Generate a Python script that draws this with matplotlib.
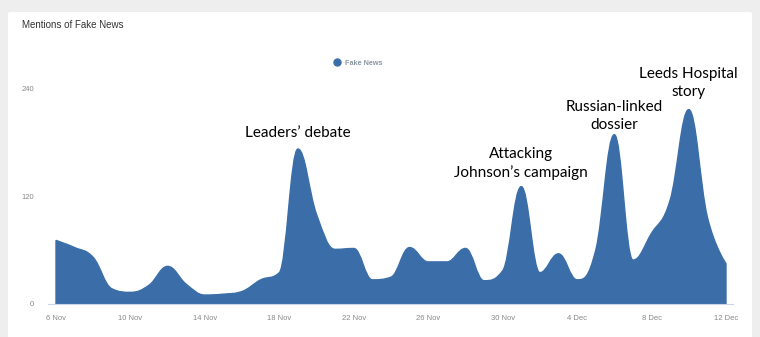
import matplotlib
matplotlib.use("Agg")
import matplotlib.pyplot as plt
import numpy as np
from matplotlib.path import Path
from matplotlib.patches import PathPatch, FancyBboxPatch

# daily mentions, 6 Nov .. 12 Dec
days = list(range(37))
mentions = [71, 63, 52, 17, 13, 21, 42, 22, 10, 11, 14, 27, 35, 173, 100, 61, 62,
            27, 30, 63, 47, 47, 62, 26, 37, 131, 35, 56, 27, 60, 189, 49, 79, 116,
            217, 97, 45]
tick_days = [0, 4, 8, 12, 16, 20, 24, 28, 32, 36]
tick_labels = ["6 Nov", "10 Nov", "14 Nov", "18 Nov", "22 Nov", "26 Nov",
               "30 Nov", "4 Dec", "8 Dec", "12 Dec"]
notes = [(13, 191, "Leaders\u2019 debate"),
         (25, 157, "Attacking\nJohnson\u2019s campaign"),
         (30, 210, "Russian-linked\ndossier"),
         (34, 247, "Leeds Hospital\nstory")]

BLUE = "#3b6ea8"


def spline_path(xs, ys):
    """Smoothed area outline, same control point scheme as highcharts areaspline."""
    n = len(xs)
    lc = [None] * n
    rc = [None] * n
    sm, den = 1.5, 2.5
    for i in range(1, n - 1):
        px, py = xs[i], ys[i]
        lx, ly = xs[i - 1], ys[i - 1]
        nx, ny = xs[i + 1], ys[i + 1]
        lcx = (sm * px + lx) / den
        lcy = (sm * py + ly) / den
        rcx = (sm * px + nx) / den
        rcy = (sm * py + ny) / den
        corr = (rcy - lcy) * (rcx - px) / (rcx - lcx) + py - rcy
        lcy += corr
        rcy += corr
        if lcy > ly and lcy > py:
            lcy = max(ly, py)
            rcy = 2 * py - lcy
        elif lcy < ly and lcy < py:
            lcy = min(ly, py)
            rcy = 2 * py - lcy
        if rcy > ny and rcy > py:
            rcy = max(ny, py)
            lcy = 2 * py - rcy
        elif rcy < ny and rcy < py:
            rcy = min(ny, py)
            lcy = 2 * py - rcy
        lc[i] = (lcx, lcy)
        rc[i] = (rcx, rcy)

    verts = [(xs[0], 0), (xs[0], ys[0])]
    codes = [Path.MOVETO, Path.LINETO]
    for i in range(1, n):
        c1 = rc[i - 1] if rc[i - 1] is not None else (xs[i - 1], ys[i - 1])
        c2 = lc[i] if lc[i] is not None else (xs[i], ys[i])
        verts += [c1, c2, (xs[i], ys[i])]
        codes += [Path.CURVE4] * 3
    verts += [(xs[-1], 0), (xs[0], 0)]
    codes += [Path.LINETO, Path.CLOSEPOLY]
    return Path(verts, codes)


fig = plt.figure(figsize=(7.6, 3.37), dpi=100)
fig.patch.set_facecolor("#eeeeee")

# white card
card = FancyBboxPatch((8 / 760, -0.02), 744 / 760, (337 - 12) / 337 + 0.02,
                      boxstyle="round,pad=0,rounding_size=0.004",
                      transform=fig.transFigure, facecolor="white",
                      edgecolor="none", zorder=-5)
fig.patches.append(card)

fig.text(22 / 760, 1 - 25 / 337, "Mentions of Fake News", fontsize=7,
         color="#333333", family="Liberation Sans", va="center", ha="left")

ax = fig.add_axes([48 / 760, (337 - 304) / 337, (733 - 48) / 760, (304 - 89) / 337])
ax.set_zorder(2)
ax.set_facecolor("none")
px_per_day = (726 - 56) / 36
pad = 8 / px_per_day
ax.set_xlim(-pad, 36 + (733 - 726) / px_per_day)
ax.set_ylim(0, 240)

ax.add_patch(PathPatch(spline_path(days, mentions), facecolor=BLUE,
                       edgecolor=BLUE, linewidth=1, zorder=2))

for s in ["left", "top", "right"]:
    ax.spines[s].set_visible(False)
ax.spines["bottom"].set_color("#ccd6eb")
ax.spines["bottom"].set_linewidth(0.8)

ax.set_xticks(tick_days)
ax.set_xticklabels(tick_labels)
ax.set_yticks([0, 120, 240])
ax.tick_params(axis="both", length=0, labelsize=5.5, labelcolor="#888888")
ax.tick_params(axis="x", pad=8)
ax.tick_params(axis="y", pad=10)
for lab in ax.get_xticklabels() + ax.get_yticklabels():
    lab.set_family("Liberation Sans")

# legend
ax.plot([], [], "o", color=BLUE, markersize=5, label="Fake News")
leg = ax.legend(loc="center", bbox_to_anchor=((356 - 48) / 685, (304 - 63) / 215),
                frameon=False, handletextpad=0.05, markerscale=1,
                prop={"family": "Liberation Sans", "size": 5.2, "weight": "bold"})
for t in leg.get_texts():
    t.set_color("#8a96a3")

for d, y, txt in notes:
    ax.text(d, y, txt, ha="center", va="center", fontsize=11,
            family="Lato", color="black", linespacing=1.35, zorder=3)

fig.savefig("out.png", dpi=100, facecolor=fig.get_facecolor())
